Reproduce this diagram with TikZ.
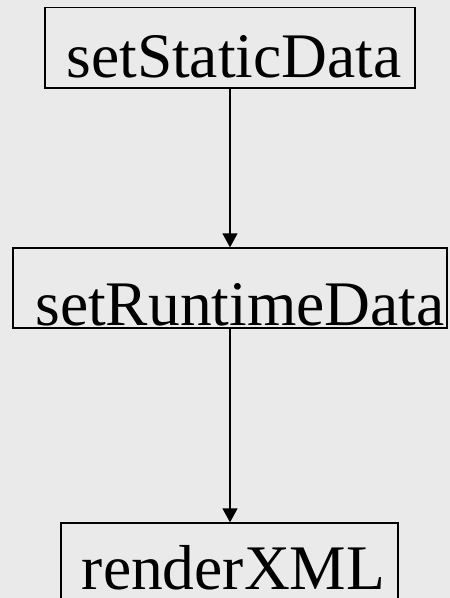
\documentclass[tikz,border=0pt]{standalone}
\usepackage{fontspec}
\setmainfont{Liberation Serif}
\usetikzlibrary{arrows.meta}
\definecolor{marble}{RGB}{234,234,234}
\tikzset{
	callbox/.style = {draw, line width = 1.3pt, inner sep = 0pt, font = \fontsize{63.5}{70}\selectfont},
	nudge/.style = {execute at begin node = \hspace*{#1}},
	callarrow/.style = {line width = 1.3pt, -{Triangle[length=14pt, width=15pt]}}
}
\begin{document}
\begin{tikzpicture} [x = 1pt, y = 1pt]
	\fill [marble] (0,0) rectangle (450,-598);
	\useasboundingbox (0,0) rectangle (450,-598);
	\node [callbox, nudge = 8pt, minimum width = 370pt, text height = 69.5pt, text depth = 11pt] (static) at (230,-47.75) {setStaticData};
	\node [callbox, nudge = 20pt, minimum width = 434pt, text height = 77pt, text depth = 3pt] (runtime) at (230,-288) {setRuntimeData};
	\node [callbox, nudge = 8pt, minimum width = 337pt, text height = 66pt, text depth = 14pt] (render) at (229.5,-563) {renderXML};
	\draw [callarrow] (static.south) -- (runtime.north);
	\draw [callarrow] (runtime.south) -- (runtime.south |- render.north);
	\end{tikzpicture}
\end{document}
